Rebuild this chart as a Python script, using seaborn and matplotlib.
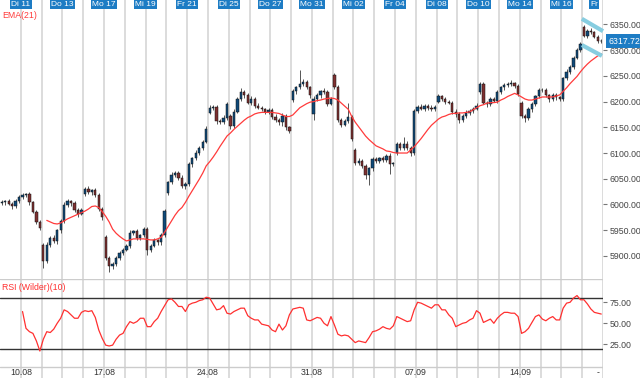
import numpy as np
import pandas as pd
import matplotlib
matplotlib.use('Agg')
import matplotlib.pyplot as plt
import matplotlib.transforms as mtrans
import seaborn as sns

# 6 bars per trading day, Mo 10.08 - Do 17.09
closes = [
    6004, 6006, 6001, 5996, 6006, 6014,
    6018, 6020, 6004, 5986, 5966, 5955,
    5890, 5922, 5935, 5928, 5950, 5968,
    5998, 6006, 6002, 5990, 5982, 5990,
    6030, 6024, 6028, 6018, 5992, 5975,
    5895, 5880, 5885, 5895, 5905, 5912,
    5920, 5945, 5948, 5935, 5940, 5952,
    5912, 5920, 5930, 5926, 5940, 5988,
    6043, 6058, 6062, 6052, 6035, 6040,
    6078, 6090, 6100, 6110, 6122, 6146,
    6188, 6190, 6162, 6160, 6168, 6195,
    6152, 6180, 6205, 6218, 6212, 6198,
    6205, 6192, 6188, 6185, 6180, 6184,
    6170, 6165, 6160, 6172, 6150, 6142,
    6220, 6228, 6234, 6238, 6228, 6212,
    6206, 6212, 6220, 6218, 6196, 6205,
    6228, 6165, 6155, 6162, 6170, 6128,
    6080, 6085, 6075, 6058, 6070, 6088,
    6085, 6090, 6086, 6095, 6078, 6080,
    6118, 6110, 6118, 6110, 6100, 6182,
    6190, 6186, 6192, 6188, 6185, 6190,
    6210, 6205, 6200, 6198, 6180, 6176,
    6165, 6172, 6178, 6182, 6186, 6192,
    6234, 6198, 6195, 6205, 6202, 6218,
    6228, 6232, 6235, 6236, 6230, 6215,
    6172, 6168, 6185, 6195, 6210, 6222,
    6222, 6212, 6205, 6212, 6208, 6206,
    6245, 6258, 6268, 6285, 6300, 6312,
    6328, 6338, 6335, 6326, 6318, 6317.72,
]
# opening prices where the bar does not open at the previous close
gap_opens = {0: 6003, 12: 5921, 24: 6020, 30: 5937, 48: 6022, 60: 6178, 66: 6172,
             84: 6203, 90: 6175, 96: 6252, 102: 6105, 114: 6100, 126: 6200,
             138: 6218, 150: 6197, 168: 6345}
upper_wick = [
    4, 3, 5, 3, 4, 5,  5, 3, 4, 3, 4, 3,  4, 5, 4, 6, 3, 4,  6, 4, 3, 5, 4, 3,
    4, 5, 3, 4, 5, 3,  3, 4, 3, 5, 4, 3,  4, 6, 3, 4, 3, 5,  4, 3, 5, 3, 4, 4,
    3, 5, 4, 3, 5, 4,  4, 3, 5, 4, 3, 6,  5, 4, 3, 4, 5, 4,  4, 5, 3, 8, 4, 5,
    5, 3, 6, 4, 3, 4,  4, 6, 3, 5, 4, 3,  4, 3, 27, 5, 4, 3,  5, 4, 3, 6, 4, 3,
    3, 4, 3, 5, 27, 3,  4, 5, 3, 4, 3, 5,  4, 3, 5, 4, 6, 3,  3, 4, 13, 5, 3, 4,
    4, 5, 3, 4, 5, 3,  5, 3, 4, 3, 4, 5,  4, 3, 5, 4, 3, 5,  4, 5, 4, 3, 4, 5,
    3, 5, 4, 6, 3, 4,  4, 3, 5, 4, 3, 5,  4, 5, 3, 4, 5, 3,  3, 5, 4, 3, 5, 4,
    4, 4, 5, 3, 4, 3,
]
lower_wick = [
    4, 5, 3, 4, 3, 4,  3, 4, 5, 3, 4, 5,  13, 4, 5, 3, 4, 5,  4, 3, 5, 4, 6, 3,
    3, 4, 5, 3, 4, 5,  4, 12, 5, 4, 3, 4,  3, 4, 5, 4, 5, 3,  10, 4, 3, 5, 4, 3,
    4, 3, 5, 4, 3, 5,  4, 5, 3, 4, 5, 3,  3, 4, 5, 4, 3, 4,  5, 4, 3, 4, 5, 3,
    4, 5, 3, 4, 5, 4,  3, 4, 5, 8, 6, 4,  4, 5, 3, 4, 3, 5,  10, 4, 5, 3, 4, 3,
    3, 5, 4, 3, 4, 5,  4, 3, 5, 8, 20, 4,  4, 5, 3, 4, 18, 3,  3, 4, 5, 4, 5, 3,
    4, 3, 5, 4, 3, 4,  3, 4, 5, 3, 4, 5,  6, 4, 3, 5, 4, 3,  4, 3, 5, 4, 3, 4,
    4, 5, 3, 4, 3, 5,  4, 8, 3, 5, 4, 3,  3, 4, 5, 3, 4, 5,  4, 3, 5, 4, 3, 4,
    3, 5, 4, 3, 4, 3,
]
ema_start = 13
ema21 = [
    5969, 5966, 5963, 5962, 5964, 5968, 5972, 5975, 5978, 5981,
    5984, 5987, 5991, 5996, 5997, 5994, 5986, 5977, 5966, 5952,
    5944, 5938, 5933, 5929, 5931, 5933, 5933, 5933, 5933, 5932,
    5931, 5931, 5933, 5936, 5946, 5957, 5968, 5979, 5988, 5994,
    6004, 6016, 6027, 6038, 6049, 6061, 6075, 6083, 6092, 6102,
    6113, 6123, 6133, 6139, 6146, 6152, 6158, 6164, 6169, 6172,
    6176, 6178, 6179, 6179, 6179, 6179, 6178, 6177, 6174, 6171,
    6171, 6174, 6181, 6188, 6192, 6196, 6199, 6200, 6202, 6203,
    6205, 6206, 6207, 6206, 6203, 6197, 6191, 6185, 6171, 6160,
    6151, 6142, 6133, 6126, 6120, 6114, 6111, 6108, 6104, 6103,
    6101, 6100, 6100, 6100, 6100, 6106, 6112, 6120, 6128, 6137,
    6146, 6154, 6160, 6166, 6170, 6172, 6175, 6177, 6177, 6178,
    6178, 6179, 6180, 6184, 6188, 6192, 6194, 6197, 6198, 6198,
    6199, 6203, 6206, 6210, 6213, 6216, 6213, 6209, 6205, 6203,
    6203, 6205, 6207, 6209, 6209, 6209, 6209, 6211, 6213, 6220,
    6227, 6235, 6242, 6249, 6258, 6266, 6273, 6279, 6284, 6289, 6293,
]
rsi_start = 6
rsi10 = [
    64, 44, 40, 38, 29, 17, 31, 40, 39, 43,
    50, 56, 66, 64, 60, 56, 56, 63, 65, 64,
    65, 57, 42, 32, 24, 23, 24, 31, 36, 38,
    46, 52, 50, 52, 56, 56, 46, 46, 52, 56,
    64, 71, 78, 79, 75, 70, 70, 64, 72, 74,
    75, 77, 78, 81, 80, 73, 66, 67, 71, 62,
    61, 64, 66, 68, 68, 59, 56, 54, 54, 49,
    48, 47, 42, 40, 49, 42, 47, 60, 67, 68,
    69, 68, 54, 53, 55, 57, 56, 50, 47, 58,
    48, 37, 35, 36, 35, 31, 27, 29, 28, 27,
    33, 40, 41, 43, 46, 44, 43, 47, 58, 56,
    54, 52, 53, 66, 75, 74, 72, 70, 68, 72,
    72, 66, 66, 60, 56, 46, 48, 50, 51, 54,
    56, 65, 62, 51, 53, 55, 50, 56, 60, 63,
    63, 62, 62, 58, 38, 40, 44, 51, 58, 60,
    55, 53, 56, 58, 54, 54, 68, 74, 75, 80,
    83, 78, 78, 73, 67, 63, 62, 61,
]
# flag channel drawn on the chart: (bar, price) end points
flag_upper = [(167.4, 6361), (173.5, 6337)]
flag_lower = [(167.4, 6310), (173.2, 6289)]

top_labels = ['Di 11', 'Do 13', 'Mo 17', 'Mi 19', 'Fr 21', 'Di 25', 'Do 27', 'Mo 31',
              'Mi 02', 'Fr 04', 'Di 08', 'Do 10', 'Mo 14', 'Mi 16', 'Fr']
top_label_days = [1, 3, 5, 7, 9, 11, 13, 15, 17, 19, 21, 23, 25, 27, 28.55]
bottom_labels = ['10.08', '17.08', '24.08', '31.08', '07.09', '14.09', '-']
bottom_label_days = [1, 5, 10, 15, 20, 25, 28.75]
price_ticks = [5900, 5950, 6000, 6050, 6100, 6150, 6200, 6250, 6300, 6350]
rsi_ticks = [25, 50, 75]
last_price = 6317.72
bars_per_day = 6
n_days = 29

sns.set_style('white')
plt.rcParams['font.family'] = ['Liberation Sans', 'DejaVu Sans']

n = len(closes)
df = pd.DataFrame({'bar': np.arange(n), 'close': closes})
df['open'] = df['close'].shift(1)
for k, v in gap_opens.items():
    df.loc[k, 'open'] = v
df['high'] = df[['open', 'close']].max(axis=1) + upper_wick
df['low'] = df[['open', 'close']].min(axis=1) - lower_wick
up = df['close'] >= df['open']

W, H = 640, 378
fig = plt.figure(figsize=(6.4, 3.78), dpi=100)
ax = fig.add_axes([0, 1 - 279 / H, 603 / W, 279 / H])
axr = fig.add_axes([0, 0, 603 / W, 99 / H])

grid_x = [d * bars_per_day - 0.5 for d in range(1, n_days + 1)]
for a in (ax, axr):
    a.set_xlim(-0.5, n - 0.5)
    for gx in grid_x:
        a.axvline(gx, color='#dcdcdc', lw=1.4, zorder=0)
    for s in a.spines.values():
        s.set_visible(False)
    a.set_xticks([])
    a.yaxis.tick_right()
    a.tick_params(axis='y', length=3, width=0.8, color='#777777', labelsize=6.3,
                  labelcolor='#444444', pad=1.5)

# candles
ax.vlines(df['bar'], df['low'], df['high'], color='#3a3a3a', lw=0.6, zorder=2)
body = (df['close'] - df['open']).abs().clip(lower=0.8)
ax.bar(df['bar'], body, bottom=df[['open', 'close']].min(axis=1), width=0.66,
       color=np.where(up, '#0f4a7a', '#7e3030'), edgecolor='#111111', linewidth=0.35,
       zorder=3)

sns.lineplot(x=df['bar'][ema_start:], y=ema21, ax=ax, color='#ff3b3b', lw=0.9, zorder=4)

for seg in (flag_upper, flag_lower):
    ax.plot([p[0] for p in seg], [p[1] for p in seg], color='#87cde0', lw=3,
            solid_capstyle='butt', zorder=5, clip_on=False)

ax.set_ylim(5855, 6397.6)
ax.set_yticks(price_ticks)
ax.set_yticklabels([f'{v:.2f}' for v in price_ticks])
ax.set_ylabel('')
ax.set_xlabel('')
ax.text(0.003, 0.943, 'EMA(21)', transform=ax.transAxes, color='#ff3b3b',
        fontsize=6.3, va='center', ha='left')

trans = mtrans.blended_transform_factory(ax.transAxes, ax.transData)
ax.text(1.009, last_price, '6317.72', transform=trans, color='white', fontsize=6.3,
        va='center', ha='left', zorder=6,
        bbox=dict(boxstyle='square,pad=0.3', fc='#1d7cc4', ec='none'))

# RSI panel
sns.lineplot(x=df['bar'][rsi_start:], y=rsi10, ax=axr, color='#ff3030', lw=0.9, zorder=4)
axr.axhline(80, color='#333333', lw=1.0, zorder=3)
axr.axhline(20, color='#333333', lw=1.0, zorder=3)
axr.axhline(102.2, color='#cccccc', lw=1.0, zorder=1)
axr.axhline(-2, color='#cccccc', lw=1.0, zorder=1)
axr.set_ylim(-15.1, 102.7)
axr.set_yticks(rsi_ticks)
axr.set_yticklabels([f'{v:.2f}' for v in rsi_ticks])
axr.set_ylabel('')
axr.set_xlabel('')
axr.text(0.003, 0.915, 'RSI (Wilder)(10)', transform=axr.transAxes, color='#ff3030',
         fontsize=6.3, va='center', ha='left')
for lab, d in zip(bottom_labels, bottom_label_days):
    axr.text(d * bars_per_day - 0.5, -8.3, lab, ha='center', va='center',
             fontsize=6.3, color='#333333')

# day labels at the top edge
for lab, d in zip(top_labels, top_label_days):
    fig.text(d * 20.8 / W, 1 - 4.5 / H, lab, ha='center', va='center', fontsize=6.0,
             color='white', bbox=dict(boxstyle='square,pad=0.15', fc='#1d7cc4', ec='none'))

fig.savefig('out.png', dpi=100)
